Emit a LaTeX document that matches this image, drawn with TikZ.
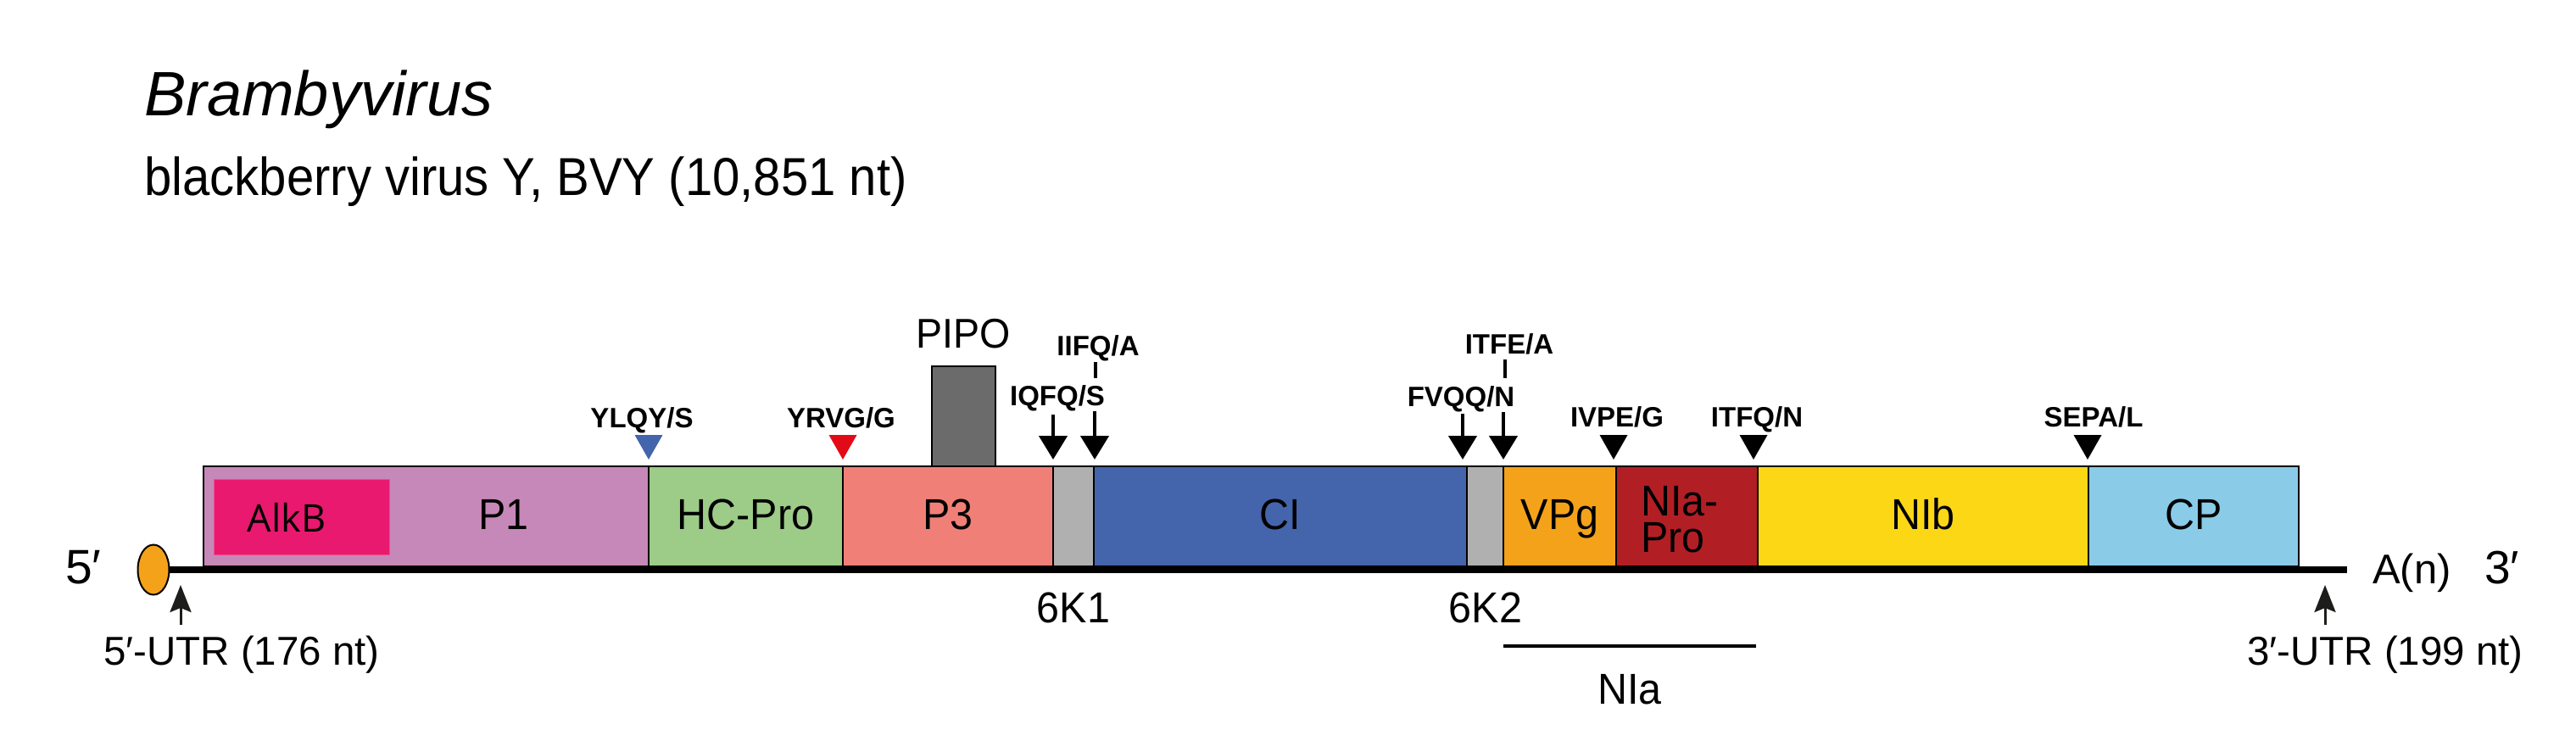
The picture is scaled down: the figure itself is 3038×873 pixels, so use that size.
\documentclass[tikz,border=0pt]{standalone}
\usepackage{fontspec}
\setmainfont[FakeStretch=0.95]{Liberation Sans}
\newfontfamily\plainfont{Liberation Sans}
\newfontfamily\subfont[FakeStretch=0.922]{Liberation Sans}
\newfontfamily\alkfont{Open Sans}
\usetikzlibrary{arrows.meta,shapes.geometric}
\definecolor{cP1}{HTML}{C688B8}
\definecolor{cHC}{HTML}{9DCB88}
\definecolor{cP3}{HTML}{F08077}
\definecolor{cK}{HTML}{B0B0B0}
\definecolor{cCI}{HTML}{4464AC}
\definecolor{cVPg}{HTML}{F4A21A}
\definecolor{cNIa}{HTML}{B11F24}
\definecolor{cNIb}{HTML}{FCD716}
\definecolor{cCP}{HTML}{8ACBE8}
\definecolor{cAlk}{HTML}{E8196F}
\definecolor{cAlkE}{HTML}{EE4C8E}
\definecolor{cEll}{HTML}{F4A21A}
\definecolor{cPIPO}{HTML}{6B6B6B}
\definecolor{cRed}{HTML}{E30A17}
\definecolor{cArr}{HTML}{1D1D1B}
\tikzset{
  seg/.style={draw=black, line width=2.5pt, inner sep=0pt, outer sep=0pt,
    minimum height=118pt, anchor=north west, text height=30pt, text depth=0pt,
    font=\fontsize{51}{51}\selectfont},
  lbl/.style={inner sep=0pt, anchor=base, font=\fontsize{51}{51}\selectfont},
  cl/.style={inner sep=0pt, anchor=base, font=\plainfont\fontsize{33}{33}\selectfont\bfseries},
  cleave/.style={line width=4.5pt, -{Triangle[width=33pt,length=28pt]}},
  utr/.style={line width=3pt, draw=cArr, -{Stealth[width=25pt,length=32pt,inset=5pt]}},
  tickline/.style={line width=3.5pt},
}
\newcommand{\cltri}[2]{\fill[#2] ({#1-16.5},513) -- ({#1+16.5},513) -- (#1,542) -- cycle;}
\begin{document}
\begin{tikzpicture}[x=1pt,y=-1pt]
\useasboundingbox (0,0) rectangle (3038,873);

% titles
\node[anchor=base west, inner sep=0pt, font=\plainfont\fontsize{74}{74}\selectfont\itshape] (title) at (170,136) {Brambyvirus};
\node[anchor=base west, inner sep=0pt, font=\subfont\fontsize{63}{63}\selectfont] (sub) at (170,230) {blackberry virus Y, BVY (10,851 nt)};

% PIPO
\node[draw=black, line width=2.5pt, fill=cPIPO, minimum width=75pt, minimum height=118pt,
  anchor=south west, inner sep=0pt, outer sep=0pt] (pipo) at (1099,550) {};
\node[lbl, font=\fontsize{49}{49}\selectfont] (pipol) at (1136,410) {PIPO};

% backbone
\node[ellipse, draw=black, line width=2pt, fill=cEll, minimum width=37pt, minimum height=59pt,
  inner sep=0pt, outer sep=0pt] (ell) at (181,672) {};
\coordinate (bbend) at (2768,672);
\draw[line width=8pt] (ell.east) -- (bbend);

% segments
\node[seg, fill=cP1, minimum width=525pt] (p1) at (240,550) {};
\node[seg, fill=cHC, minimum width=229pt] (hc) at (p1.north east) {HC-Pro};
\node[seg, fill=cP3, minimum width=248pt] (p3) at (hc.north east) {P3};
\node[seg, fill=cK, minimum width=48pt] (k1) at (p3.north east) {};
\node[seg, fill=cCI, minimum width=440pt] (ci) at (k1.north east) {CI};
\node[seg, fill=cK, minimum width=43pt] (k2) at (ci.north east) {};
\node[seg, fill=cVPg, minimum width=133pt] (vpg) at (k2.north east) {VPg};
\node[seg, fill=cNIa, minimum width=167pt] (nia) at (vpg.north east) {};
\node[seg, fill=cNIb, minimum width=390pt] (nib) at (nia.north east) {NIb};
\node[seg, fill=cCP, minimum width=248pt] (cp) at (nib.north east) {CP};

\node[fill=cAlk, draw=cAlkE, line width=1pt, minimum width=207pt, minimum height=89pt,
  anchor=north west, inner sep=0pt, outer sep=0pt] (alkbox) at (252,565) {};
\node[lbl, font=\alkfont\fontsize{45}{45}\selectfont] (alk) at (338,627) {AlkB};
\node[lbl] (p1l) at (594,624) {P1};
\node[inner sep=0pt, anchor=north west, align=left, font=\fontsize{51}{43}\selectfont] (nial1) at (1935,573.5) {NIa-\\Pro};

% ends
\node[lbl, anchor=base west, font=\plainfont\fontsize{57}{57}\selectfont] (five) at (77,688) {5′};
\node[lbl, anchor=base west, font=\plainfont\fontsize{49}{49}\selectfont] (an) at (2798,688) {A(n)};
\node[lbl, anchor=base west, font=\plainfont\fontsize{55}{55}\selectfont] (three) at (2930,688) {3′};
\node[lbl, anchor=base west, font=\plainfont\fontsize{47.5}{47.5}\selectfont] (utr5) at (122,784) {5′-UTR (176 nt)};
\node[lbl, anchor=base east, font=\plainfont\fontsize{47.5}{47.5}\selectfont] (utr3) at (2976,784) {3′-UTR (199 nt)};
\coordinate (u5s) at (213,737); \coordinate (u5t) at (213,690);
\coordinate (u3s) at (2742,737); \coordinate (u3t) at (2742,690);
\draw[utr] (u5s) -- (u5t);
\draw[utr] (u3s) -- (u3t);

% below labels
\node[lbl] (k1l) at (1266,734) {6K1};
\node[lbl] (k2l) at (1752,734) {6K2};
\coordinate (nias) at (1773,762); \coordinate (niae) at (2071,762);
\draw[line width=3.3pt] (nias) -- (niae);
\node[lbl] (nial) at (1922,830) {NIa};

% cleavage sites
\node[cl] (c1) at (757,504) {YLQY/S};
\node[cl] (c2) at (992,504) {YRVG/G};
\node[cl] (c3) at (1247,478) {IQFQ/S};
\node[cl] (c4) at (1295,419) {IIFQ/A};
\node[cl] (c5) at (1723,479) {FVQQ/N};
\node[cl] (c6) at (1780,417) {ITFE/A};
\node[cl] (c7) at (1907,503) {IVPE/G};
\node[cl] (c8) at (2072,503) {ITFQ/N};
\node[cl] (c9) at (2469,503) {SEPA/L};

\cltri{765}{cCI}
\cltri{994}{cRed}
\cltri{1903}{black}
\cltri{2068}{black}
\cltri{2462}{black}

\coordinate (a3s) at (1242,489); \coordinate (a3e) at (1242,542);
\coordinate (a4s) at (1291,485); \coordinate (a4e) at (1291,542);
\coordinate (a5s) at (1725,488); \coordinate (a5e) at (1725,542);
\coordinate (a6s) at (1773,486); \coordinate (a6e) at (1773,542);
\draw[cleave] (a3s) -- (a3e);
\draw[cleave] (a4s) -- (a4e);
\draw[cleave] (a5s) -- (a5e);
\draw[cleave] (a6s) -- (a6e);
\coordinate (t4s) at (1292,427); \coordinate (t4e) at (1292,446);
\coordinate (t6s) at (1775,424); \coordinate (t6e) at (1775,446);
\draw[tickline] (t4s) -- (t4e);
\draw[tickline] (t6s) -- (t6e);
\end{tikzpicture}
\end{document}
